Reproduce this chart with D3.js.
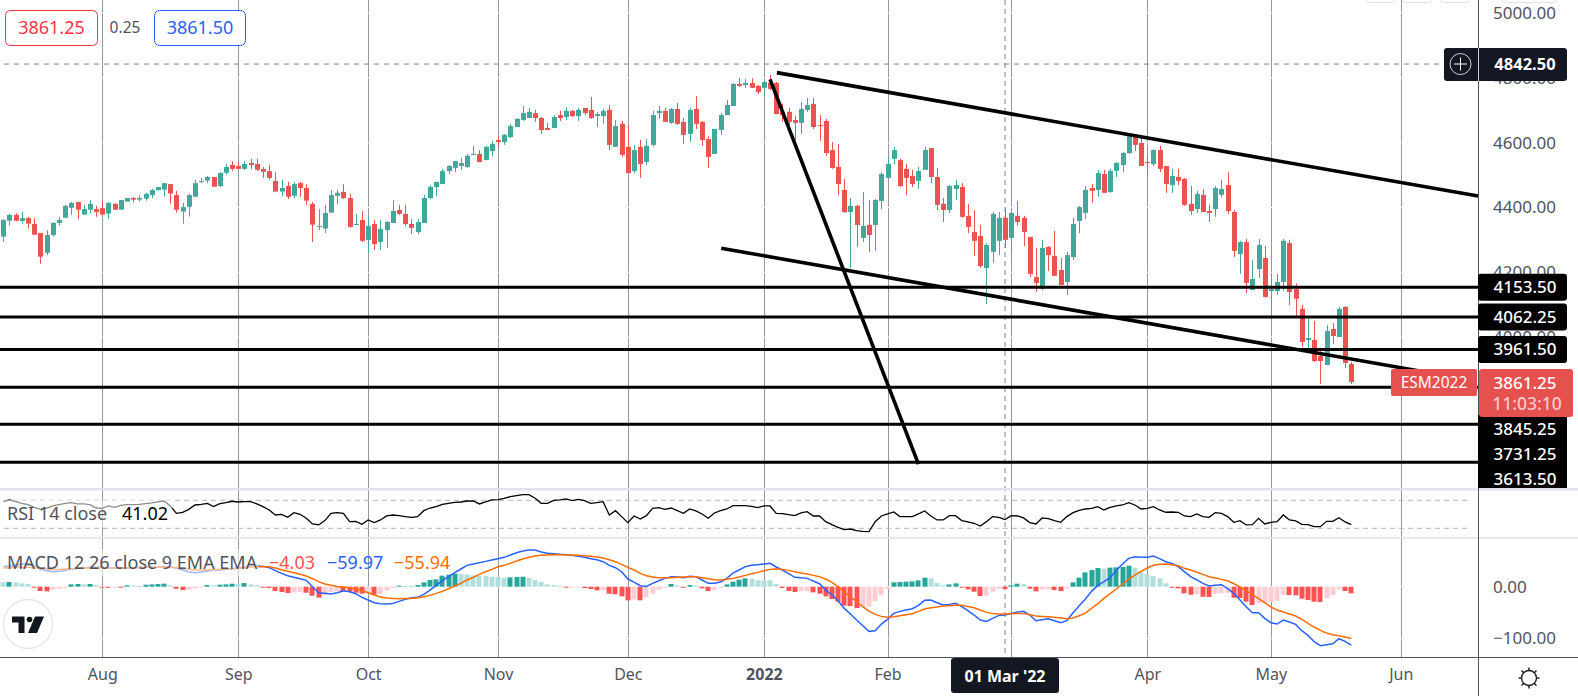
<!DOCTYPE html>
<html>
<head>
<meta charset="utf-8">
<script src="https://cdn.jsdelivr.net/npm/d3@7"></script>
<style>
html, body { margin: 0; padding: 0; background: #fff; overflow: hidden; }
svg { display: block; }
text { font-family: "Noto Sans", sans-serif; }
</style>
</head>
<body>
<div id="chart"></div>
<script>
var opens = [
4310,4359,4377,4358,4367,4349,4321,4260,4315,4352,
4368,4399,4417,4378,4393,4395,4398,4381,4411,4393,
4418,4429,4424,4427,4438,4454,4455,4472,4438,4387,
4402,4433,4479,4483,4494,4466,4507,4531,4528,4519,
4537,4534,4519,4512,4482,4449,4466,4436,4475,4460,
4411,4341,4335,4384,4436,4448,4429,4347,4361,4300,
4349,4293,4330,4352,4392,4380,4349,4324,4352,4429,
4463,4472,4512,4522,4528,4525,4562,4565,4546,4574,
4608,4602,4617,4648,4670,4676,4691,4676,4645,4645,
4685,4679,4698,4682,4707,4701,4682,4682,4701,4587,
4658,4587,4512,4587,4540,4593,4691,4698,4661,4704,
4664,4627,4704,4664,4611,4565,4639,4685,4713,4781,
4778,4784,4775,4769,4784,4784,4695,4695,4670,4661,
4701,4719,4654,4667,4577,4525,4454,4386,4405,4306,
4346,4346,4420,4491,4550,4546,4519,4497,4482,4516,
4583,4494,4411,4392,4457,4463,4374,4324,4312,4213,
4263,4297,4368,4306,4374,4368,4309,4185,4150,4278,
4250,4207,4170,4247,4358,4383,4460,4454,4503,4448,
4513,4531,4568,4624,4599,4540,4534,4577,4528,4469,
4494,4488,4411,4395,4439,4389,4395,4439,4469,4386,
4256,4293,4145,4210,4244,4142,4142,4170,4290,4148,
4087,3991,3991,3942,3914,4025,4000,4093,3917];

var highs = [
4364,4380,4383,4386,4371,4367,4321,4330,4355,4371,
4408,4417,4417,4408,4423,4405,4420,4417,4414,4423,
4418,4432,4438,4445,4457,4463,4475,4472,4451,4414,
4442,4485,4491,4497,4494,4509,4534,4543,4540,4543,
4550,4550,4525,4531,4509,4485,4479,4479,4479,4472,
4417,4395,4408,4454,4454,4472,4442,4380,4389,4367,
4361,4361,4358,4423,4408,4408,4364,4364,4438,4469,
4479,4519,4531,4543,4553,4565,4590,4577,4590,4605,
4620,4627,4658,4676,4713,4707,4701,4679,4661,4685,
4698,4710,4701,4707,4707,4741,4695,4704,4716,4670,
4667,4651,4593,4608,4611,4698,4713,4707,4707,4722,
4676,4707,4744,4667,4620,4642,4691,4732,4784,4799,
4796,4799,4778,4790,4809,4787,4721,4707,4682,4725,
4738,4738,4685,4673,4602,4596,4488,4429,4408,4448,
4423,4426,4509,4556,4587,4550,4534,4516,4525,4587,
4583,4522,4429,4469,4485,4475,4411,4392,4346,4290,
4386,4386,4395,4398,4420,4374,4309,4275,4300,4281,
4327,4244,4263,4368,4405,4466,4472,4516,4516,4519,
4540,4571,4627,4624,4614,4556,4580,4590,4528,4519,
4519,4491,4466,4451,4457,4408,4466,4485,4509,4392,
4297,4303,4238,4303,4281,4198,4195,4303,4300,4165,
4099,4056,4050,3960,4037,4043,4093,4096,3923];

var lows = [
4294,4344,4358,4350,4335,4316,4226,4253,4310,4344,
4368,4377,4364,4378,4381,4371,4378,4365,4393,4393,
4418,4415,4418,4421,4429,4451,4433,4412,4384,4350,
4372,4433,4475,4475,4464,4463,4501,4512,4519,4516,
4519,4512,4491,4485,4449,4435,4426,4429,4432,4408,
4293,4330,4321,4384,4411,4426,4337,4346,4293,4259,
4269,4269,4275,4352,4377,4343,4318,4318,4352,4426,
4435,4472,4503,4509,4516,4522,4562,4540,4546,4559,
4587,4593,4614,4648,4667,4676,4664,4627,4639,4645,
4667,4670,4679,4667,4685,4673,4648,4658,4577,4587,
4556,4506,4506,4491,4531,4587,4673,4664,4658,4654,
4596,4602,4642,4590,4522,4565,4624,4685,4713,4772,
4769,4769,4750,4747,4762,4688,4664,4654,4608,4627,
4695,4642,4605,4559,4519,4438,4383,4213,4278,4293,
4263,4266,4395,4491,4534,4463,4438,4463,4457,4516,
4475,4392,4355,4383,4423,4368,4321,4250,4213,4102,
4229,4253,4275,4260,4343,4281,4185,4139,4145,4204,
4189,4160,4130,4238,4321,4364,4414,4432,4445,4445,
4494,4509,4565,4574,4528,4500,4528,4509,4445,4445,
4469,4405,4377,4383,4386,4355,4371,4432,4380,4247,
4195,4136,4145,4182,4121,4065,4130,4142,4099,4065,
3970,3966,3923,3855,3914,3979,4000,3905,3855];

var closes = [
4361,4377,4359,4367,4350,4316,4248,4315,4352,4361,
4405,4414,4393,4395,4411,4386,4378,4414,4393,4423,
4429,4424,4429,4442,4454,4463,4475,4443,4393,4401,
4438,4475,4481,4494,4464,4506,4525,4519,4519,4534,
4531,4516,4510,4491,4449,4460,4433,4472,4460,4421,
4347,4343,4383,4438,4445,4429,4340,4349,4297,4343,
4287,4334,4355,4389,4380,4349,4337,4355,4429,4463,
4479,4512,4528,4543,4537,4559,4565,4540,4587,4596,
4602,4624,4651,4673,4691,4695,4676,4639,4639,4679,
4676,4698,4682,4701,4691,4676,4688,4698,4593,4651,
4562,4506,4577,4534,4590,4685,4698,4664,4704,4658,
4624,4701,4658,4608,4556,4642,4685,4716,4781,4775,
4784,4769,4756,4787,4766,4688,4685,4664,4661,4704,
4716,4648,4652,4568,4522,4472,4386,4405,4346,4343,
4315,4423,4503,4534,4577,4466,4491,4472,4512,4577,
4494,4408,4392,4466,4469,4371,4340,4297,4219,4284,
4380,4368,4300,4383,4355,4324,4195,4167,4275,4253,
4189,4161,4253,4349,4401,4454,4451,4506,4445,4513,
4537,4568,4621,4593,4528,4537,4577,4519,4472,4497,
4482,4408,4389,4442,4386,4383,4460,4457,4389,4266,
4293,4167,4179,4284,4124,4148,4170,4297,4139,4118,
3985,3997,3926,3926,4019,4003,4087,3920,3861.25];

var rsiValues = [
68.1,70.5,68.1,65.7,63.8,60,57.1,59,61.9,63.8,
65.7,66.7,64.8,64.8,63.8,59,58.6,61.9,60,62.9,
63.8,63.8,64.3,65.2,66.2,67.6,69,61.9,51.4,52.9,
57.1,63.3,64.3,65.7,61,65.2,66.7,68.6,67.6,68.1,
68.1,64.8,61,56.2,49,50,45.7,52.4,50,44.3,
36.2,34.8,41,51.4,52.4,51.4,39.5,40,35.7,41.9,
38.1,41.9,47.6,49,48.1,46.7,45.7,46.7,55.2,59,
61,64.3,65.7,67.1,67.6,69,69,64.8,67.6,70.5,
71,72.9,75.2,76.7,78.1,78.1,72.9,65.7,65.7,70,
70.5,71.9,69.5,71.4,69.5,65.7,66.7,68.1,49,55.2,
46.7,38.1,47.6,43.3,48.1,58.6,59.5,57.1,59,55.2,
51.4,57.6,54.8,50.5,44.3,51.9,55.2,57.6,62.4,62.4,
62.4,61.4,59.5,61.9,61.9,51.4,51,49.5,48.1,51.9,
53.8,47.6,47.6,39.5,35.3,31.4,28.1,29,26.7,25.7,
25.3,39.5,47.6,50.5,53.3,46.7,46.7,46.7,50.5,54.8,
47.6,41.9,41.9,48.1,48.1,41,39.1,37.2,33.3,39.5,
46.7,45.7,42.4,48.1,47.6,44.8,38.1,36.2,44.8,43.8,
41,38.6,46.7,52.4,55.7,57.6,58.6,61,56.2,60,
61.9,63.3,66.7,63.3,57.6,58.6,61,56.2,52.9,53.3,
52.9,47.6,46.7,50.5,46.7,45.7,52.4,51.4,46.7,38.6,
41,34.8,35.3,44.3,36.2,38.6,39.5,49,41.9,40.5,
35.7,35.3,32.4,32.4,40,40,45.2,39.1,35.3];

var macdValues = [
38.7,40,41.9,43.9,43.9,40,33.5,31,29,29.7,
31.6,33.5,35.5,36.8,37.4,37.4,37.4,36.8,36.1,35.5,
36.1,36.8,37.4,37.4,37.4,38.1,39.3,38.1,36.1,32.3,
28.4,27.1,28.4,30.3,31.6,32.3,33.5,34.8,36.1,37.4,
39.3,40,39.3,36.8,31,25.8,21.3,18.1,15.5,12.3,
0,-11.6,-12.9,-14.2,-11.6,-7.7,-9.7,-13.5,-20.6,-25.8,
-31,-32.9,-33.5,-32.3,-28.4,-24.5,-21.3,-20.6,-14.8,-6.5,
2.6,11.6,19.4,27.1,34.2,41.3,43.9,46.4,49,51.6,
54.2,56.8,61.3,65.8,69,71,71,67.1,64.5,63.9,
62.6,61.9,60.6,58.7,56.8,54.2,52.2,48.4,41.3,36.8,
29,14.8,9,1.9,0.6,6.5,11.6,16.1,19.4,18.7,
17.4,20,19.4,12.9,6.5,6.5,9,16.1,26.4,32.3,
38.7,41.3,42.6,43.9,45.2,38.1,32.3,25.2,18.1,17.4,
16.1,11,5.8,-6.5,-15.5,-27.1,-41.9,-52.9,-64.5,-75.5,
-86.4,-85.1,-72.2,-63.2,-51.6,-47.7,-45.2,-42.6,-36.1,-26.4,
-25.8,-31,-35.5,-34.2,-32.3,-38.7,-46.4,-54.8,-64.5,-67.1,
-61.3,-55.5,-54.8,-51.6,-49,-47.7,-54.8,-65.8,-63.9,-61.9,
-65.8,-69.7,-65.8,-50.3,-36.8,-23.9,-9,2.6,9.7,17.4,
31.6,43.9,54.8,58,56.8,56.8,59.3,54.2,48.4,45.2,
38.7,29,19.4,13.5,6.5,1.3,2.6,3.9,-3.9,-12.9,
-25.8,-38.7,-50.3,-50.3,-61.3,-69.7,-72.2,-64.5,-68.4,-72.9,
-85.1,-94.2,-106.4,-114.2,-112.2,-110.3,-100.6,-105.8,-112.9];

var signalValues = [
36.1,36.8,37.4,38.1,37.4,36.8,35.5,34.2,33.5,33.5,
34.2,34.8,35.5,35.5,36.1,36.1,36.1,36.1,36.1,36.1,
36.1,36.8,36.8,37.4,37.4,37.4,38.1,37.4,36.8,35.5,
33.5,32.3,32.3,32.9,33.5,33.5,34.2,34.8,35.5,36.8,
38.1,38.7,39.3,38.7,36.1,32.9,29.7,27.1,23.9,20.6,
15.5,9.7,5.2,2.6,0.6,-0.6,-1.9,-3.9,-7.7,-11.6,
-16.1,-20,-21.9,-22.6,-23.2,-22.6,-22.6,-21.3,-19.4,-16.8,
-12.9,-9,-3.9,1.3,6.5,12.9,18.1,23.9,29,33.5,
38.7,41.3,45.2,49.7,53.5,56.8,59.3,60.6,61.3,61.9,
61.9,61.3,61.3,60.6,60,58.7,57.4,55.5,52.2,48.4,
43.2,37.4,32.3,25.8,21.3,18.7,17.4,17.4,17.4,18.1,
18.7,19.4,19.4,17.4,15.5,13.5,12.9,14.2,16.1,18.7,
21.9,25.2,27.7,31,33.5,34.8,33.5,31.6,29,26.4,
24.5,21.9,19.4,14.8,8.4,0,-9.7,-19.4,-29,-38.7,
-47.1,-53.5,-57.4,-59.3,-58,-56.1,-54.2,-52.2,-47.7,-43.2,
-40.6,-39.3,-37.4,-36.8,-36.1,-36.1,-38.1,-40.6,-45.2,-49.7,
-51.6,-52.9,-52.9,-52.2,-51.6,-51.6,-54.2,-56.8,-57.4,-58,
-59.3,-60.6,-61.9,-60.6,-56.1,-51,-41.9,-32.9,-22.6,-13.5,
-4.5,5.2,14.2,22.6,29.7,36.1,41.3,43.2,43.9,42.6,
40.6,35.5,32.3,28.4,23.9,19.4,16.8,14.2,11.6,5.8,
-0.6,-7.7,-15.5,-23.2,-31,-39.3,-45.2,-49,-52.9,-56.8,
-63.2,-71,-78,-84.5,-89.7,-92.9,-94.8,-97.4,-100];

var histValues = [
8.4,9,8.4,6.5,5.2,-1.3,-8.4,-9,-5.2,-3.9,
-1.3,4.5,5.2,4.5,5.2,3.2,-0.6,-1.3,-0.6,-1.3,
2.6,1.9,1.3,3.9,4.5,5.2,5.8,2.6,-3.9,-6.5,
-5.8,-3.2,-1.3,3.2,2.6,3.9,4.5,5.8,5.2,7.1,
4.5,2.6,-0.6,-2.6,-8.4,-10.3,-12.3,-11,-10.3,-11.6,
-17.4,-21.3,-16.8,-10.3,-8.4,-9,-9.7,-11.6,-13.5,-12.9,
-15.5,-14.2,-7.7,-2.6,1.9,1.3,1.3,3.2,8.4,12.9,
14.2,21.3,23.2,25.2,24.5,23.9,21.9,21.3,20.6,19.4,
18.7,17.4,18.1,18.7,19.4,16.8,12.9,9,4.5,3.2,
1.9,-1.3,-1.3,-1.3,-2.6,-4.5,-7.1,-7.1,-13.5,-14.8,
-18.7,-26.4,-24.5,-26.4,-20.6,-13.5,-5.8,-2.6,5.2,2.6,
-1.3,3.2,2.6,-3.2,-8.4,-6.5,-2.6,4.5,9.7,13.5,
16.1,15.5,12.3,12.3,12.3,5.2,-2.6,-8.4,-10.3,-9,
-8.4,-11,-13.5,-18.7,-23.9,-29,-36.8,-37.4,-41.3,-40.6,
-38.7,-27.7,-16.1,-4.5,8.4,9,9.7,10.3,12.3,17.4,
16.1,7.1,2.6,4.5,6.5,-1.3,-5.2,-9.7,-18.1,-17.4,
-9.7,-3.9,-4.5,2.6,5.8,5.2,-3.9,-9,-5.8,-4.5,
-6.5,-8.4,-3.2,8.4,17.4,27.7,32.3,36.1,34.8,36.8,
37.4,38.1,40.6,36.8,29.7,24.5,20.6,16.1,6.5,-0.6,
-3.2,-12.9,-15.5,-14.2,-19.4,-20,-14.2,-12.9,-12.3,-21.3,
-21.9,-29,-35.5,-32.3,-31.6,-29.7,-27.1,-15.5,-16.1,-16.8,
-23.2,-25.8,-29,-29.7,-21.9,-16.1,-5.2,-8.4,-12.9];

var monthBars = [16, 38, 59, 80, 101, 123, 143, 163, 185, 205, 226];
var monthLabels = ["Aug", "Sep", "Oct", "Nov", "Dec", "2022", "Feb", "Mar", "Apr", "May", "Jun"];
var crosshairBar = 162;
var crosshairLabel = "01 Mar '22";
var priceTicks = [5000, 4800, 4600, 4400, 4200, 4000];
var macdTicks = [0, -100];
var rsiBands = [70, 30];
var levels = [4153.5, 4062.25, 3961.5, 3845.25, 3731.25, 3613.5];
var highMark = 4842.5;
var trendTop = [[125.1, 4816], [238.5, 4435]];
var trendSteep = [[124, 4795], [148, 3608]];
var trendLower = [[116.1, 4274], [228.8, 3896]];
var lastPrice = 3861.25;

var W = 1578, H = 696;
var axisX = 1478, timeY = 657;
var textColor = "#50535e", inkColor = "#131722";
var green = "#41a89b", red = "#ea5350";

var x = d3.scaleLinear().domain([0, 218]).range([3.3, 1351.3]);
var yPrice = d3.scaleLinear().domain([5000, 3613.5]).range([13, 462.3]);
var yRsi = d3.scaleLinear().domain([70, 30]).range([500.3, 528.3]);
var yMacd = d3.scaleLinear().domain([0, -100]).range([586.7, 638.4]);

var svg = d3.select("#chart").append("svg").attr("width", W).attr("height", H);

// month lines first, the white price grid cuts through them
svg.append("g").selectAll("line").data(monthBars).join("line")
	.attr("x1", function(d){ return Math.round(x(d)) + 0.5; })
	.attr("x2", function(d){ return Math.round(x(d)) + 0.5; })
	.attr("y1", 0).attr("y2", timeY)
	.attr("stroke", "#9598a1").attr("stroke-width", 1);

svg.append("g").selectAll("line").data(priceTicks).join("line")
	.attr("x1", 0).attr("x2", axisX)
	.attr("y1", function(d){ return yPrice(d); })
	.attr("y2", function(d){ return yPrice(d); })
	.attr("stroke", "#fff").attr("stroke-width", 1);

svg.append("g").selectAll("line").data(macdTicks).join("line")
	.attr("x1", 0).attr("x2", axisX)
	.attr("y1", function(d){ return yMacd(d); })
	.attr("y2", function(d){ return yMacd(d); })
	.attr("stroke", "#fff").attr("stroke-width", 1);

// crosshair
svg.append("line")
	.attr("x1", x(crosshairBar)).attr("x2", x(crosshairBar))
	.attr("y1", 0).attr("y2", timeY)
	.attr("stroke", "#758696").attr("stroke-width", 1).attr("stroke-dasharray", "5,4");

svg.append("line")
	.attr("x1", 4).attr("x2", 1444)
	.attr("y1", yPrice(highMark)).attr("y2", yPrice(highMark))
	.attr("stroke", "#758696").attr("stroke-width", 1).attr("stroke-dasharray", "5,5");

// candles
var candleColor = function(i){ return closes[i] >= opens[i] ? green : red; };

svg.append("g").selectAll("line").data(opens).join("line")
	.attr("x1", function(d, i){ return Math.round(x(i)) + 0.5; })
	.attr("x2", function(d, i){ return Math.round(x(i)) + 0.5; })
	.attr("y1", function(d, i){ return yPrice(highs[i]); })
	.attr("y2", function(d, i){ return yPrice(lows[i]); })
	.attr("stroke", function(d, i){ return candleColor(i); })
	.attr("stroke-width", 1);

svg.append("g").selectAll("rect").data(opens).join("rect")
	.attr("x", function(d, i){ return Math.round(x(i)) - 2; })
	.attr("width", 5)
	.attr("y", function(d, i){ return yPrice(Math.max(d, closes[i])); })
	.attr("height", function(d, i){ return Math.max(1, Math.abs(yPrice(d) - yPrice(closes[i]))); })
	.attr("fill", function(d, i){ return candleColor(i); });

// black drawings
svg.append("g").selectAll("line").data(levels).join("line")
	.attr("x1", 0).attr("x2", axisX)
	.attr("y1", function(d){ return yPrice(d); })
	.attr("y2", function(d){ return yPrice(d); })
	.attr("stroke", "#000").attr("stroke-width", 3);

svg.append("g").selectAll("line").data([trendTop, trendSteep, trendLower]).join("line")
	.attr("x1", function(d){ return x(d[0][0]); })
	.attr("y1", function(d){ return yPrice(d[0][1]); })
	.attr("x2", function(d){ return x(d[1][0]); })
	.attr("y2", function(d){ return yPrice(d[1][1]); })
	.attr("stroke", "#000").attr("stroke-width", 3.6);

// pane separators
svg.append("rect").attr("x", 0).attr("y", 488).attr("width", W).attr("height", 2.5).attr("fill", "#e0e3eb");
svg.append("rect").attr("x", 0).attr("y", 537).attr("width", W).attr("height", 1.5).attr("fill", "#e0e3eb");

// rsi
svg.append("g").selectAll("line").data(rsiBands).join("line")
	.attr("x1", 4).attr("x2", 1471)
	.attr("y1", function(d){ return yRsi(d); })
	.attr("y2", function(d){ return yRsi(d); })
	.attr("stroke", "#b2b5be").attr("stroke-width", 1).attr("stroke-dasharray", "5,4");

svg.append("path").datum(rsiValues)
	.attr("d", d3.line().x(function(d, i){ return x(i); }).y(function(d){ return yRsi(d); }))
	.attr("fill", "none").attr("stroke", "#000").attr("stroke-width", 1.3);

// macd
svg.append("g").selectAll("rect").data(histValues).join("rect")
	.attr("x", function(d, i){ return Math.round(x(i)) - 2.5; })
	.attr("width", 5)
	.attr("y", function(d){ return Math.min(yMacd(d), yMacd(0)); })
	.attr("height", function(d){ return Math.max(1, Math.abs(yMacd(d) - yMacd(0))); })
	.attr("fill", function(d, i){
		var prev = i > 0 ? histValues[i - 1] : d;
		if(d >= 0){
			return d > prev ? "#26a69a" : "#b2dfdb";
		}
		return d < prev ? "#ff5252" : "#ffcdd2";
	});

var macdLine = d3.line().x(function(d, i){ return x(i); }).y(function(d){ return yMacd(d); });

svg.append("path").datum(macdValues).attr("d", macdLine)
	.attr("fill", "none").attr("stroke", "#2962ff").attr("stroke-width", 1.5);
svg.append("path").datum(signalValues).attr("d", macdLine)
	.attr("fill", "none").attr("stroke", "#ff6d00").attr("stroke-width", 1.5);

// legends sit on a see-through white strip
svg.append("rect").attr("x", 0).attr("y", 500).attr("width", 172).attr("height", 27).attr("fill", "#fff").attr("opacity", 0.55);
svg.append("rect").attr("x", 0).attr("y", 549).attr("width", 258).attr("height", 27).attr("fill", "#fff").attr("opacity", 0.55);

var legend = function(label, px, py, fill){
	svg.append("text").attr("x", px).attr("y", py).attr("dy", "0.35em")
		.attr("font-size", 18).attr("fill", fill).text(label);
};
legend("RSI 14 close", 7, 514, textColor);
legend("41.02", 122, 514, "#000");
legend("MACD 12 26 close 9 EMA EMA", 7, 563, textColor);
legend("\u22124.03", 269, 563, "#ff5252");
legend("\u221259.97", 327, 563, "#2962ff");
legend("\u221255.94", 394, 563, "#ff6d00");

// tradingview mark
var logo = svg.append("g").attr("transform", "translate(28,624)");
logo.append("circle").attr("r", 24.5).attr("fill", "#fff").attr("stroke", "#e8e8e8").attr("stroke-width", 1.5);
logo.append("path").attr("d", "M-16,-7.5H-3.5V9H-9.5V-1.5H-16Z").attr("fill", inkColor);
logo.append("circle").attr("cx", 1.5).attr("cy", -4.5).attr("r", 2.8).attr("fill", inkColor);
logo.append("path").attr("d", "M7,-7.5H16L9,9H0Z").attr("fill", inkColor);

// axes
var priceAxis = svg.append("g").attr("transform", "translate(1493,0)")
	.call(d3.axisRight(yPrice).tickValues(priceTicks).tickFormat(d3.format(".2f")).tickSize(0).tickPadding(0));
var macdAxis = svg.append("g").attr("transform", "translate(1493,0)")
	.call(d3.axisRight(yMacd).tickValues(macdTicks).tickFormat(d3.format(".2f")).tickSize(0).tickPadding(0));
var timeAxis = svg.append("g").attr("transform", "translate(0,669)")
	.call(d3.axisBottom(x).tickValues(monthBars)
		.tickFormat(function(d, i){ return monthLabels[i]; }).tickSize(0).tickPadding(0));

[priceAxis, macdAxis, timeAxis].forEach(function(a){
	a.select(".domain").remove();
	a.selectAll("text").attr("font-size", 17).attr("font-family", '"Noto Sans", sans-serif').attr("fill", textColor);
});
timeAxis.selectAll("text").attr("font-size", 16);
timeAxis.selectAll("text").filter(function(d, i){ return monthLabels[i] === "2022"; }).attr("font-weight", 700);
// Mar sits under the crosshair date
timeAxis.selectAll("text").filter(function(d, i){ return monthLabels[i] === "Mar"; }).remove();

svg.append("line").attr("x1", 0).attr("x2", W).attr("y1", timeY + 0.5).attr("y2", timeY + 0.5).attr("stroke", textColor);
svg.append("line").attr("x1", axisX + 0.5).attr("x2", axisX + 0.5).attr("y1", 0).attr("y2", H).attr("stroke", textColor);

// bits of the toolbar cut off by the top edge
var stubs = [[1366, 29], [1403, 29], [1440, 29], [1502, 54]];
svg.append("g").selectAll("rect").data(stubs).join("rect")
	.attr("x", function(d){ return d[0]; }).attr("y", -6)
	.attr("width", function(d){ return d[1]; }).attr("height", 8.5).attr("rx", 3)
	.attr("fill", "#fff").attr("stroke", "#e0e3eb");

// level tags, the last three are stacked under the price tag
var tagFont = function(sel){
	return sel.attr("font-size", 17).attr("font-weight", 500).attr("text-anchor", "middle").attr("dy", "0.35em");
};
var tagY = function(d, i){ return i < 3 ? yPrice(d) : 429 + (i - 3) * 25.1; };

svg.append("rect").attr("x", axisX).attr("y", 415).attr("width", 89).attr("height", 73).attr("fill", "#000");
svg.append("g").selectAll("rect").data(levels.slice(0, 3)).join("rect")
	.attr("x", axisX).attr("width", 89).attr("height", 27).attr("rx", 3)
	.attr("y", function(d){ return yPrice(d) - 13.5; })
	.attr("fill", "#000");
svg.append("g").selectAll("text").data(levels).join("text")
	.call(tagFont)
	.attr("x", 1525).attr("y", tagY)
	.attr("fill", "#fff").text(d3.format(".2f"));

// last price tag
svg.append("rect").attr("x", 1391).attr("y", 369).attr("width", 86).attr("height", 27).attr("rx", 2).attr("fill", "#e5514f");
svg.append("rect").attr("x", axisX + 1).attr("y", 369).attr("width", 94).attr("height", 48).attr("rx", 3).attr("fill", "#e5514f");
svg.append("text").call(tagFont).attr("x", 1434).attr("y", 383).attr("font-size", 15.5).attr("font-weight", 400).attr("fill", "#fff").text("ESM2022");
svg.append("text").call(tagFont).attr("x", 1525).attr("y", 383).attr("fill", "#fff").text(d3.format(".2f")(lastPrice));
svg.append("text").call(tagFont).attr("x", 1527).attr("y", 404).attr("font-size", 17.5).attr("fill", "#fff").attr("fill-opacity", 0.7).text("11:03:10");

// high mark tag with the plus button
svg.append("rect").attr("x", 1444).attr("y", 48).attr("width", 123).attr("height", 33).attr("rx", 3).attr("fill", inkColor);
svg.append("line").attr("x1", axisX + 0.5).attr("x2", axisX + 0.5).attr("y1", 48).attr("y2", 81).attr("stroke", "#fff").attr("stroke-opacity", 0.8);
svg.append("circle").attr("cx", 1460.5).attr("cy", yPrice(highMark)).attr("r", 10.5).attr("fill", "none").attr("stroke", "#d1d4dc");
svg.append("path").attr("d", "M1454,64H1467M1460.5,57.5V70.5").attr("stroke", "#fff").attr("stroke-width", 1);
svg.append("text").call(tagFont).attr("x", 1525).attr("y", yPrice(highMark)).attr("font-size", 16.5).attr("font-weight", 700).attr("fill", "#fff").text(d3.format(".2f")(highMark));

// crosshair date
svg.append("rect").attr("x", 951).attr("y", timeY + 1).attr("width", 108).attr("height", 35).attr("rx", 3).attr("fill", inkColor);
svg.append("text").call(tagFont).attr("x", 1005).attr("y", 676).attr("font-size", 16).attr("font-weight", 700).attr("fill", "#fff").text(crosshairLabel);

// buy / sell boxes
var quoteBox = function(px, w, label, color){
	svg.append("rect").attr("x", px).attr("y", 10.5).attr("width", w).attr("height", 35).attr("rx", 5)
		.attr("fill", "#fff").attr("stroke", color);
	svg.append("text").call(tagFont).attr("font-size", 18).attr("font-weight", 400).attr("x", px + w / 2).attr("y", 28).attr("fill", color).text(label);
};
quoteBox(5.5, 92, "3861.25", "#f23645");
quoteBox(154.5, 91, "3861.50", "#2962ff");
svg.append("text").call(tagFont).attr("font-weight", 400).attr("font-size", 15.5).attr("x", 125).attr("y", 28).attr("fill", textColor).text("0.25");

// settings gear
var gear = svg.append("g").attr("transform", "translate(1529,678)");
gear.append("circle").attr("r", 7.5).attr("fill", "none").attr("stroke", inkColor).attr("stroke-width", 1.3);
gear.selectAll("line").data(d3.range(8)).join("line")
	.attr("y1", -7.5).attr("y2", -10.5)
	.attr("transform", function(d){ return "rotate(" + d * 45 + ")"; })
	.attr("stroke", inkColor).attr("stroke-width", 1.4);
</script>
</body>
</html>
